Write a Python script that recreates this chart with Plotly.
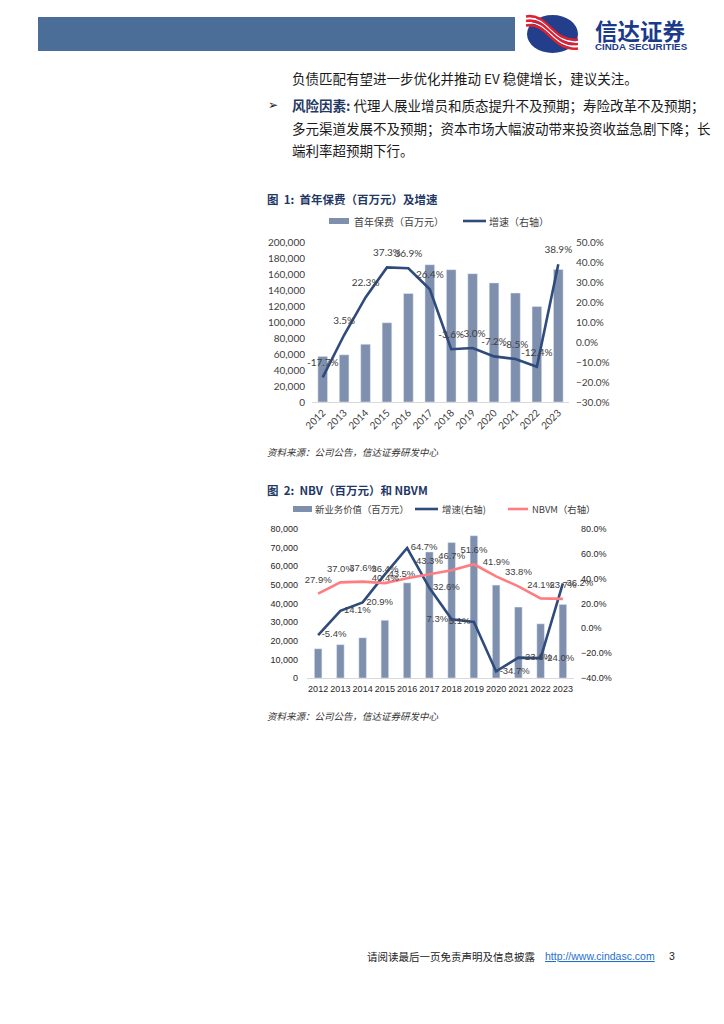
import plotly.graph_objects as go

W, H = 724, 1024
def X(px): return px / W
def Y(py): return 1 - py / H

# ---------------- data ----------------
years = ["2012", "2013", "2014", "2015", "2016", "2017", "2018", "2019", "2020", "2021", "2022", "2023"]
fyp = [57000, 59000, 72200, 99100, 135700, 171600, 165400, 160400, 148900, 136200, 119300, 165700]
fyp_growth = [-17.7, 3.5, 22.3, 37.3, 36.9, 26.4, -3.6, -3.0, -7.2, -8.5, -12.4, 38.9]

nbv = [15700, 17900, 21600, 31000, 51100, 67700, 72700, 76400, 49900, 38100, 29100, 39500]
nbv_growth = [-5.4, 14.1, 20.9, 43.5, 64.7, 32.6, 7.3, 5.1, -34.7, -23.6, -24.0, 36.2]
nbvm = [27.9, 37.0, 37.6, 36.4, 40.4, 43.3, 46.7, 51.6, 41.9, 33.8, 24.1, 23.7]

# ---------------- styles ----------------
BAR = "#7f8fae"
NAVY = "#2f4b7c"
PINK = "#ff7c80"
TITLE = "#1f3864"
LBL = "#404040"
CJK = "Noto Sans CJK SC"
F1 = "Lato"
F2 = "Liberation Sans"

g2_pos = ["middle right"] * 12
g2_pos[6] = "middle left"
g2_pos[7] = "middle left"
m_pos = ["top center"] * 12
m_pos[4] = "middle left"

fig = go.Figure()

# chart 1
fig.add_trace(go.Bar(x=years, y=fyp, marker_color=BAR, width=0.45, xaxis="x", yaxis="y", showlegend=False))
fig.add_trace(go.Scatter(x=years, y=fyp_growth, mode="lines+markers+text", line=dict(color=NAVY, width=2.6),
                         marker=dict(size=12, opacity=0), text=[f"{v:.1f}%" for v in fyp_growth],
                         textposition="top center", textfont=dict(family=F1, size=10, color=LBL),
                         xaxis="x", yaxis="y2", showlegend=False, cliponaxis=False))

# chart 2
fig.add_trace(go.Bar(x=years, y=nbv, marker_color=BAR, width=0.34, xaxis="x2", yaxis="y3", showlegend=False))
fig.add_trace(go.Scatter(x=years, y=nbv_growth, mode="lines+markers+text", line=dict(color=NAVY, width=2.6),
                         marker=dict(size=4, opacity=0), text=[f"{v:.1f}%" for v in nbv_growth],
                         textposition=g2_pos, textfont=dict(family=F2, size=9.5, color=LBL),
                         xaxis="x2", yaxis="y4", showlegend=False, cliponaxis=False))
fig.add_trace(go.Scatter(x=years, y=nbvm, mode="lines+markers+text", line=dict(color=PINK, width=2.6),
                         marker=dict(size=12, opacity=0), text=[f"{v:.1f}%" for v in nbvm],
                         textposition=m_pos, textfont=dict(family=F2, size=9.5, color=LBL),
                         xaxis="x2", yaxis="y4", showlegend=False, cliponaxis=False))

ax_common = dict(showgrid=False, zeroline=False, ticks="", color=LBL, automargin=False)

fig.update_layout(
    width=W, height=H, margin=dict(l=0, r=0, t=0, b=0, pad=0, autoexpand=False),
    paper_bgcolor="white", plot_bgcolor="rgba(0,0,0,0)", hovermode=False,
    xaxis=dict(domain=[X(312), X(569)], anchor="y", type="category", tickangle=-45, range=[-0.5, 11.5],
               showline=True, linecolor="#d9d9d9", linewidth=1,
               tickfont=dict(family=F1, size=10, color=LBL), **ax_common),
    yaxis=dict(domain=[Y(402), Y(242)], anchor="x", range=[0, 200000], dtick=20000, tickformat=",",
               tickfont=dict(family=F1, size=10, color=LBL), ticklabelstandoff=6, **ax_common),
    yaxis2=dict(overlaying="y", side="right", anchor="x", range=[-30, 50], dtick=10, tickformat=".1f",
                ticksuffix="%", tickfont=dict(family=F1, size=10, color=LBL), ticklabelstandoff=6, **ax_common),
    xaxis2=dict(domain=[X(307), X(574)], anchor="y3", type="category", tickangle=0, range=[-0.5, 11.5],
                showline=True, linecolor="#d9d9d9", linewidth=1,
                tickfont=dict(family=F2, size=9, color="#262626"), ticklabelstandoff=2, **ax_common),
    yaxis3=dict(domain=[Y(678), Y(529)], anchor="x2", range=[0, 80000], dtick=10000, tickformat=",",
                tickfont=dict(family=F2, size=9, color="#262626"), ticklabelstandoff=8, **ax_common),
    yaxis4=dict(overlaying="y3", side="right", anchor="x2", range=[-40, 80], dtick=20, tickformat=".1f",
                ticksuffix="%", tickfont=dict(family=F2, size=9, color="#262626"), ticklabelstandoff=6, **ax_common),
    bargap=0.5,
)

shapes = []
ann = []

# header band
shapes.append(dict(type="rect", xref="paper", yref="paper", x0=X(38), x1=X(515), y0=Y(51), y1=Y(17),
                   fillcolor="#4b6e99", line_width=0, layer="below"))
# logo
shapes.append(dict(type="circle", xref="paper", yref="paper", x0=X(527), x1=X(578), y0=Y(53), y1=Y(15),
                   fillcolor="#233f8c", line_width=0))
def P(pts):
    s = "M %f %f" % (X(pts[0][0]), Y(pts[0][1]))
    s += " C " + " ".join("%f %f" % (X(a), Y(b)) for a, b in pts[1:])
    return s
for dy, col, wd in [(-4.5, "#e02030", 2.6), (-2.2, "white", 1.4), (0, "#e02030", 2.6), (2.2, "white", 1.4), (4.5, "#e02030", 2.6)]:
    shapes.append(dict(type="path", xref="paper", yref="paper",
                       path=P([(526, 21 + dy), (548, 17 + dy), (552, 47 + dy), (578, 44 + dy)]),
                       line=dict(color=col, width=wd)))
ann.append(dict(x=X(593), y=Y(30), xref="paper", yref="paper", xanchor="left", yanchor="middle", showarrow=False,
                text="<b>信达证券</b>", font=dict(family=CJK, size=22.5, color="#1b3a8a")))
ann.append(dict(x=X(593), y=Y(46.5), xref="paper", yref="paper", xanchor="left", yanchor="middle", showarrow=False,
                text="<b>CINDA SECURITIES</b>", font=dict(family=F2, size=9.8, color="#1b3a8a")))

# body text
BODY = "#1a1a1a"
def txt(x, y, s, size=13.5, color=BODY, family=CJK, anchor="left"):
    ann.append(dict(x=X(x), y=Y(y), xref="paper", yref="paper", xanchor=anchor, yanchor="middle",
                    showarrow=False, text=s, font=dict(family=family, size=size, color=color)))
txt(290, 78, "负债匹配有望进一步优化并推动 EV 稳健增长，建议关注。")
txt(266, 105, "➢", size=12, family="DejaVu Sans")
txt(290, 105, f"<b><span style='color:{TITLE}'>风险因素:</span></b> 代理人展业增员和质态提升不及预期；寿险改革不及预期；")
txt(290, 128, "多元渠道发展不及预期；资本市场大幅波动带来投资收益急剧下降；长")
txt(290, 150, "端利率超预期下行。")

# chart titles and sources
txt(265, 199, "<b>图  1:  首年保费（百万元）及增速</b>", size=11.5, color=TITLE)
txt(265, 490, "<b>图  2:  NBV（百万元）和 NBVM</b>", size=11.5, color=TITLE)
txt(265, 452, "<i>资料来源：公司公告，信达证券研发中心</i>", size=9.5, color="#333333")
txt(265, 716, "<i>资料来源：公司公告，信达证券研发中心</i>", size=9.5, color="#333333")

# legend chart 1
shapes.append(dict(type="rect", xref="paper", yref="paper", x0=X(329), x1=X(349), y0=Y(224), y1=Y(218),
                   fillcolor=BAR, line_width=0))
txt(352, 221, "首年保费（百万元）", size=10, color=LBL)
shapes.append(dict(type="line", xref="paper", yref="paper", x0=X(463), x1=X(486), y0=Y(221), y1=Y(221),
                   line=dict(color=NAVY, width=2.6)))
txt(487, 221, "增速（右轴）", size=10, color=LBL)

# legend chart 2
shapes.append(dict(type="rect", xref="paper", yref="paper", x0=X(293), x1=X(312), y0=Y(512), y1=Y(506),
                   fillcolor=BAR, line_width=0))
txt(313, 509, "新业务价值（百万元）", size=9.4, color=LBL)
shapes.append(dict(type="line", xref="paper", yref="paper", x0=X(415), x1=X(438), y0=Y(509), y1=Y(509),
                   line=dict(color=NAVY, width=2.6)))
txt(440, 509, "增速(右轴)", size=9.4, color=LBL)
shapes.append(dict(type="line", xref="paper", yref="paper", x0=X(508), x1=X(528), y0=Y(509), y1=Y(509),
                   line=dict(color=PINK, width=2.6)))
txt(530, 509, "NBVM（右轴）", size=9.4, color=LBL)

# footer
txt(365, 956, "请阅读最后一页免责声明及信息披露", size=10.5, color="#222222")
txt(543, 956, "<span style='text-decoration:underline'>http://www.cindasc.com</span>", size=10.5,
    color="#1f6fd0", family=F2)
txt(667, 956, "3", size=10.5, color="#222222", family=F2)

fig.update_layout(shapes=shapes, annotations=ann)
fig.write_html("out.html", config={"displayModeBar": False, "staticPlot": True},
               post_script="document.body.style.margin='0px';")
